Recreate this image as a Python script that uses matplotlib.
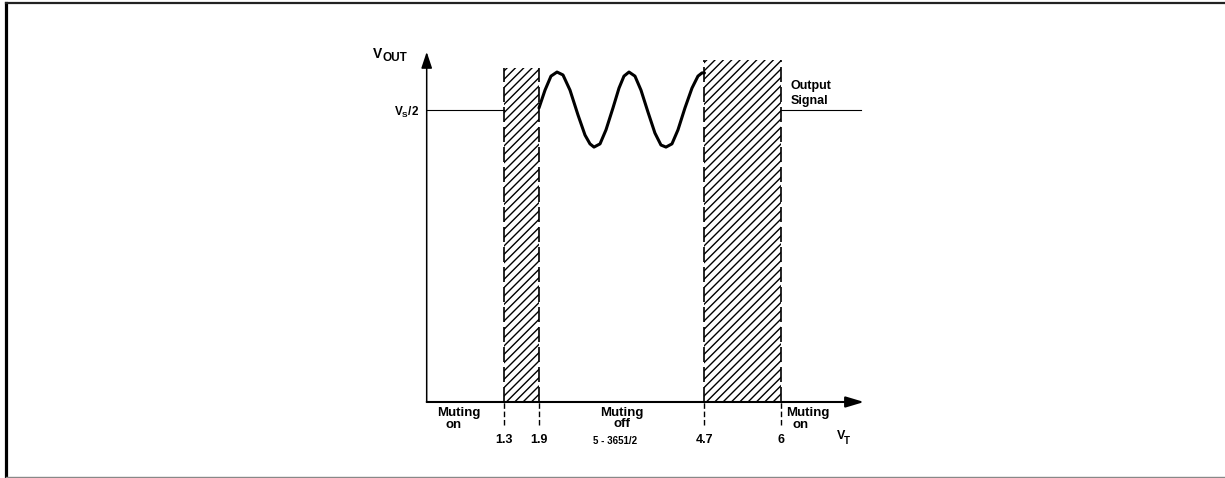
import matplotlib
matplotlib.use("Agg")
from matplotlib import pyplot as plt
from matplotlib.lines import Line2D

plt.rcParams['font.family'] = ['Liberation Sans', 'DejaVu Sans']
plt.rcParams['font.weight'] = 'bold'
plt.rcParams['hatch.linewidth'] = 1.0

# seuils de la tension VT (V)
seuils = [1.3, 1.9, 4.7, 6]
seuil_labels = ["1.3", "1.9", "4.7", "6"]

# zones hachurees (debut, fin, hauteur en unites de Vs/2)
zones_debut = [1.3, 4.7]
zones_fin = [1.9, 6.0]
zones_haut = [1.144, 1.171]

# signal de sortie entre 1.9 et 4.7 (Y = Vout / (Vs/2))
signal_vt = [1.9, 2.002, 2.103, 2.205, 2.306, 2.425, 2.560, 2.679, 2.763, 2.831,
             2.933, 3.034, 3.152, 3.254, 3.338, 3.423, 3.524, 3.626, 3.744, 3.862,
             3.964, 4.049, 4.150, 4.252, 4.370, 4.489, 4.590, 4.658, 4.7]
signal_y = [1.007, 1.068, 1.116, 1.130, 1.120, 1.068, 0.983, 0.914, 0.884, 0.873,
            0.884, 0.932, 1.007, 1.075, 1.116, 1.130, 1.116, 1.068, 0.993, 0.921,
            0.880, 0.873, 0.884, 0.932, 1.007, 1.075, 1.116, 1.127, 1.127]

# niveau Vs/2 en dehors de la zone active
repos_gauche = [0, 1.3]
repos_droite = [6.0, 7.35]
niveau = 1.0

fig = plt.figure(figsize=(12.25, 4.78), dpi=100)
ax = fig.add_axes([0, 0, 1, 1])
ax.set_xlim(-7.220, 13.508)
ax.set_ylim(-0.2603, 1.3767)
ax.axis('off')

# cadre de la figure
fig.add_artist(Line2D([0.0053, 0.0053], [0.0031, 0.9937], transform=fig.transFigure,
                      color='black', lw=2.3))
fig.add_artist(Line2D([0.0053, 1.0], [0.9937, 0.9937], transform=fig.transFigure,
                      color='#222222', lw=1.6))
fig.add_artist(Line2D([0.0053, 1.0], [0.0031, 0.0031], transform=fig.transFigure,
                      color='#888888', lw=1.0))

# zones hachurees
largeurs = [f - d for d, f in zip(zones_debut, zones_fin)]
ax.bar(zones_debut, zones_haut, width=largeurs, align='edge', bottom=0,
       fill=False, hatch='////', edgecolor='black', linewidth=0)
for d, f, h in zip(zones_debut, zones_fin, zones_haut):
    ax.plot([d, d], [0, h], color='black', lw=1.2, dashes=(9, 3))
    ax.plot([f, f], [0, h], color='black', lw=1.2, dashes=(9, 3))

# axes avec fleches
ax.annotate('', xy=(0, 1.199), xytext=(0, 0),
            arrowprops=dict(arrowstyle='-|>,head_length=0.9,head_width=0.3',
                            lw=1.1, color='black', mutation_scale=11,
                            shrinkA=0, shrinkB=0))
ax.annotate('', xy=(7.40, 0), xytext=(0, 0),
            arrowprops=dict(arrowstyle='-|>,head_length=1.0,head_width=0.3',
                            lw=1.5, color='black', mutation_scale=11,
                            shrinkA=0, shrinkB=0))

# traits de repere sous l'axe
ax.vlines(seuils, -0.079, 0, colors='black', lw=1.0, linestyles=(0, (4, 2)))

# lignes de repos et signal
ax.plot(repos_gauche, [niveau, niveau], color='black', lw=0.8)
ax.plot(repos_droite, [niveau, niveau], color='black', lw=0.8)
ax.plot(signal_vt, signal_y, color='black', lw=2.2, solid_capstyle='round',
        solid_joinstyle='round')

# textes
for v, lab in zip(seuils, seuil_labels):
    ax.text(v, -0.130, lab, ha='center', va='center', fontsize=9)

ax.text(-0.756, 1.192, "V", ha='right', va='center', fontsize=10)
ax.text(-0.740, 1.177, "OUT", ha='left', va='center', fontsize=8.5)
ax.text(-0.13, 0.990, r"V$_{\mathregular{S}}$/2", ha='right', va='center', fontsize=8.5)

ax.text(6.152, 1.082, "Output", ha='left', va='center', fontsize=9)
ax.text(6.152, 1.031, "Signal", ha='left', va='center', fontsize=9)

ax.text(0.547, -0.036, "Muting", ha='center', va='center', fontsize=9.5)
ax.text(0.45, -0.080, "on", ha='center', va='center', fontsize=9.5)
ax.text(3.305, -0.036, "Muting", ha='center', va='center', fontsize=9.5)
ax.text(3.305, -0.076, "off", ha='center', va='center', fontsize=9.5)
ax.text(6.452, -0.036, "Muting", ha='center', va='center', fontsize=9.5)
ax.text(6.333, -0.080, "on", ha='center', va='center', fontsize=9.5)

ax.text(3.186, -0.134, "5 - 3651/2", ha='center', va='center', fontsize=7)
ax.text(7.02, -0.116, "V", ha='center', va='center', fontsize=9)
ax.text(7.11, -0.132, "T", ha='center', va='center', fontsize=7)

fig.savefig("out.png", dpi=100)
